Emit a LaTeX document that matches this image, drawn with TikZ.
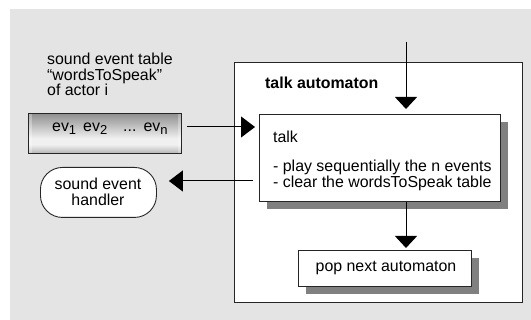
\documentclass[tikz,border=0pt]{standalone}
\usepackage{fontspec}
\setmainfont{Liberation Sans}
\usetikzlibrary{arrows.meta,shadows,calc}

\definecolor{panelgray}{HTML}{E4E4E4}
\definecolor{shadowgray}{HTML}{808080}

% metallic look of the event table bar (defined bottom to top)
\pgfdeclareverticalshading{metalbar}{100bp}{%
  color(0bp)=(black!80); color(10bp)=(black!62); color(36bp)=(black!6);
  color(44bp)=(black!6); color(80bp)=(black!50); color(100bp)=(black!78)}

\newcommand\lowsub[1]{\raisebox{-3pt}{\fontsize{13}{13}\selectfont #1}}

\tikzset{
  txt/.style={inner sep=0pt, font=\fontsize{15.9}{15.5}\selectfont},
  boxed/.style={draw=black!85, line width=0.9pt, fill=white, inner sep=0pt},
  shadowed/.style={boxed, drop shadow={shadow xshift=8pt, shadow yshift=-8pt,
      fill=shadowgray, opacity=1}},
  flow/.style={draw=black, line width=1pt,
      -{Triangle[length=14pt,width=21pt]}},
  flowdown/.style={draw=black, line width=1pt,
      -{Triangle[length=12pt,width=22pt]}},
}

\begin{document}
\begin{tikzpicture}[x=1pt, y=-1pt]
\useasboundingbox (0,0) rectangle (531,320);
\fill[panelgray] (10,9) rectangle (531,320);

% container of the automaton
\node (auto) [boxed, minimum width=288pt, minimum height=240pt, anchor=north west] at (234,62) {};
\node (autotitle) [txt, font=\fontsize{15.9}{15.5}\selectfont\bfseries, anchor=base west] at (265,89) {talk automaton};

% talk state
\node (talk) [shadowed, minimum width=241pt, minimum height=87pt, anchor=north west] at (259,114) {};
\node (talklabel) [txt, anchor=base west] at (273,143) {talk};
\node (talkline1) [txt, anchor=base west] at (273,172) {- play sequentially the n events};
\node (talkline2) [txt, anchor=base west] at (273,187.5) {- clear the wordsToSpeak table};

% next state
\node (pop) [shadowed, minimum width=173pt, minimum height=36pt, anchor=north west] at (298,250) {};
\node (poplabel) [txt] at (386,268) {pop next automaton};

% event table description
\node (desc1) [txt, anchor=base west] at (47,65) {sound event table};
\node (desc2) [txt, anchor=base west] at (47,80.5) {“wordsToSpeak”};
\node (desc3) [txt, anchor=base west] at (47,96) {of actor i};

% event table bar
\node (bar) [draw=black!85, line width=0.9pt, shading=metalbar, minimum width=153pt,
  minimum height=40pt, inner sep=0pt, anchor=north west] at (28,113) {};
\fill[white, opacity=0.3] ($(bar.north west)+(1,1)$) rectangle ($(bar.south west)+(4,-1)$);
\fill[white, opacity=0.3] ($(bar.north east)+(-4,1)$) rectangle ($(bar.south east)+(-1,-1)$);
\node (barlabel) [txt, anchor=base west] at (52,132)
  {ev\lowsub{1}\hspace{7pt}ev\lowsub{2}\hspace{16pt}...\hspace{7pt}ev\lowsub{n}};

% sound event handler
\node (handler) [boxed, rounded corners=22pt, minimum width=116pt, minimum height=50pt,
  anchor=north west] at (40,167) {};
\node (handlerlabel) [txt, align=center] at (98,192) {sound event\\handler};

% connectors
\coordinate (topin) at (406,42);
\coordinate (barout) at (187,127);
\coordinate (talkout) at (253,181);
\draw[flowdown, shorten >=5pt] (topin) -- (topin |- talk.north);
\draw[flow, shorten >=4pt] (barout) -- (barout -| talk.west);
\draw[flow, shorten >=12pt] (talkout) -- (talkout -| handler.east);
\draw[flowdown, shorten >=2pt] (topin |- talk.south) -- (topin |- pop.north);
\end{tikzpicture}
\end{document}
